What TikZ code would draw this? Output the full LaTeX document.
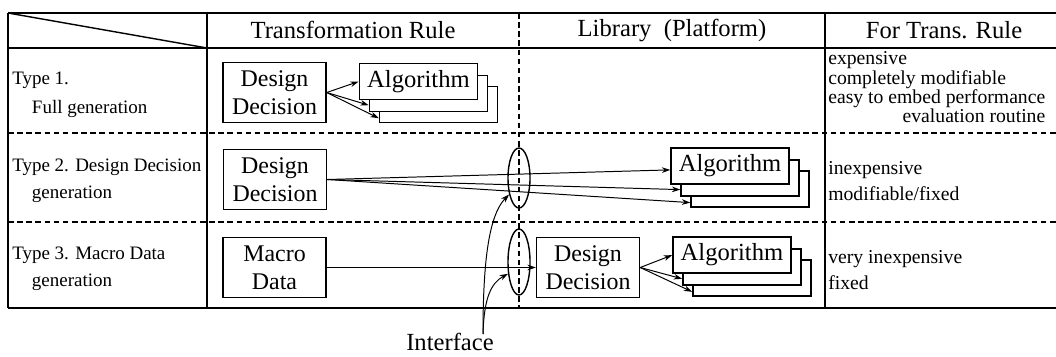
\documentclass[tikz,border=0pt]{standalone}
\usepackage{fontspec}
\setmainfont{Liberation Serif}
\usetikzlibrary{calc, shapes.geometric, backgrounds}
\usetikzlibrary{positioning, arrows.meta}
\tikzstyle{block} = [
rectangle,
draw,
fill=white,
line width=1pt,
minimum width=2.575cm,
minimum height=1.5cm,
inner sep=1pt,
align=center,
font=\fontsize{17}{20}\selectfont
]
\tikzstyle{algbox} = [
rectangle,
draw,
fill=white,
line width=1pt,
minimum width=2.95cm,
minimum height=0.9cm,
inner sep=1pt,
font=\fontsize{17.5}{20}\selectfont
]
\tikzstyle{iface} = [
ellipse,
draw,
line width=1pt,
minimum width=0.55cm,
minimum height=1.5cm,
inner sep=0pt
]
\tikzstyle{head} = [font=\fontsize{17.5}{20}\selectfont]
\tikzstyle{rowtext} = [anchor=west, align=left, inner sep=0pt, font=\fontsize{13.5}{19}\selectfont]
\tikzstyle{costtext} = [anchor=west, inner sep=0pt, font=\fontsize{14}{13}\selectfont]
\tikzstyle{sep} = [line width=1pt, dash pattern=on 4pt off 2.5pt]
\tikzstyle{arrow}=[line width=0.7pt, -{Stealth[length=6pt,width=4pt]}]

\begin{document}
\begin{tikzpicture}[x=0.025cm, y=-0.025cm, node distance=0.8cm]
        \useasboundingbox (0,0) rectangle (1056,356);

        % table frame
        \draw[line width=1.5pt] (8,13) -- (1056,13);
        \draw[line width=1.2pt] (8,48) -- (1056,48);
        \draw[line width=1.5pt] (8,308) -- (1056,308);
        \draw[line width=1.5pt] (8,13) -- (8,308);
        \draw[line width=1pt] (207,13) -- (207,308);
        \draw[line width=1pt] (825,13) -- (825,308);
        \draw[line width=1pt] (8,13) -- (207,48);
        \draw[sep] (8,133) -- (1056,133);
        \draw[sep] (8,222) -- (1056,222);
        \draw[sep] (519,13) -- (519,308);

        % headers
        \node(hrule)[head] at (353,30) {Transformation Rule};
        \node(hlib)[head] at (672,30) {Library\ \ (Platform)};
        \node(hcost)[head] at (944,30) {For Trans. Rule};

        % left column
        \node(type1)[rowtext] at (12,95)
        {Type 1.\\[2pt]\hspace*{14pt}Full generation};
        \node(type2)[rowtext] at (12,181)
        {Type 2. Design Decision\\\hspace*{14pt}generation};
        \node(type3)[rowtext] at (12,269)
        {Type 3. Macro Data\\\hspace*{14pt}generation};

        % right column
        \node(cost1)[costtext] at (828,90)
        {\begin{tabular}{@{}l@{}}expensive\\completely modifiable\\easy to embed performance\\
        \multicolumn{1}{@{}r@{}}{evaluation routine}\end{tabular}};
        \node(cost2)[costtext, align=left, font=\fontsize{14}{18.5}\selectfont] at (828,181)
        {inexpensive\\modifiable/fixed};
        \node(cost3)[costtext, align=left, font=\fontsize{14}{18}\selectfont] at (828,270)
        {very inexpensive\\fixed};

        % type 1
        \node(dd1)[block] at (274.5,92.5) {Design\\Decision};
        \node(alg1a)[algbox, right=0.8cm of dd1, yshift=0.275cm] {Algorithm};
        \begin{scope}[on background layer]
        \node(alg1c)[algbox] at ($(alg1a)+(20,23)$) {};
        \node(alg1b)[algbox] at ($(alg1a)+(10,12)$) {};
        \end{scope}
        \draw[arrow] (dd1.east) -- (alg1a.west);
        \draw[arrow] (dd1.east) -- ($(alg1b.south west)+(0,-7)$);
        \draw[arrow] (dd1.east) -- ($(alg1c.south west)+(0,-5)$);

        % type 2
        \node(dd2)[block] at (275,179.5) {Design\\Decision};
        \node(ell2)[iface] at (519,178) {};
        \node(alg2a)[algbox, right=8.575cm of dd2, yshift=0.34cm] {Algorithm};
        \begin{scope}[on background layer]
        \node(alg2c)[algbox] at ($(alg2a)+(20,23)$) {};
        \node(alg2b)[algbox] at ($(alg2a)+(10,12)$) {};
        \end{scope}
        \draw[arrow] (dd2.east) -- ($(alg2a.west)+(0,4)$);
        \draw[arrow] (dd2.east) -- ($(alg2b.south west)+(0,-7)$);
        \draw[arrow] (dd2.east) -- ($(alg2c.south west)+(0,-5)$);

        % type 3
        \node(macro)[block] at (274.5,267.5) {Macro\\Data};
        \node(ell3)[iface, minimum height=1.65cm] at (519,262) {};
        \node(dd3)[block, right=5.225cm of macro] {Design\\Decision};
        \node(alg3a)[algbox, right=0.8cm of dd3, yshift=0.31cm] {Algorithm};
        \begin{scope}[on background layer]
        \node(alg3c)[algbox] at ($(alg3a)+(20,23)$) {};
        \node(alg3b)[algbox] at ($(alg3a)+(10,12)$) {};
        \end{scope}
        \draw[arrow] (macro) -- (dd3);
        \draw[arrow] (dd3.east) -- (alg3a.west);
        \draw[arrow] (dd3.east) -- ($(alg3b.south west)+(0,-7)$);
        \draw[arrow] (dd3.east) -- ($(alg3c.south west)+(0,-5)$);

        % interface
        \node(ilabel)[head, inner sep=0pt] at (450,342) {Interface};
        \coordinate (ifc) at (483,334);
        \draw[arrow] (ifc) .. controls (483,260) and (489,215) .. (ell2.239);
        \draw[arrow] (ifc) .. controls (484,298) and (491,283) .. (ell3.227);

        \end{tikzpicture}
\end{document}
